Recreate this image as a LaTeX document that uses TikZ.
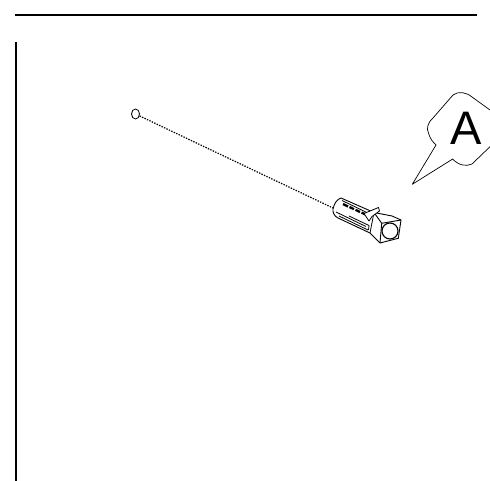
\documentclass[tikz,border=0pt]{standalone}
\usepackage{fontspec}
\usetikzlibrary{shapes.geometric}
\setmainfont{Liberation Sans}
\tikzset{
  frame/.style={line width=2pt,black},
  part/.style={line width=0.9pt,black,line join=round},
  thin part/.style={line width=0.8pt,black,line join=round},
  rib/.style={line width=2.3pt,black},
  hole/.style={ellipse,draw,line width=0.8pt,minimum width=8pt,minimum height=10pt,inner sep=0pt},
  guide/.style={line width=1.2pt,black,dash pattern=on 1.4pt off 1.3pt},
  callout/.style={line width=0.7pt,black,line join=round},
}
\begin{document}
\begin{tikzpicture}[x=1pt,y=-1pt]
\useasboundingbox (0,0) rectangle (490,481);
\fill[white] (0,0) rectangle (490,481);
% frame lines
\coordinate (tl) at (15,15.5);
\coordinate (tr) at (477,15.5);
\coordinate (lt) at (15.5,42);
\coordinate (lb) at (15.5,481);
\draw[frame] (tl) -- (tr);
\draw[frame] (lt) -- (lb);
% hole and guide
\node[hole] (hole) at (135.5,114) {};
\coordinate (nose) at (333,208);
\draw[guide] (hole) -- (nose);
% plug body
\draw[part,fill=white]
  (333,209) .. controls (334,204) and (337,199) .. (341,198)
  -- (374,212.5) -- (392,216) -- (401,220)
  -- (398.3,238.3) -- (380,243) -- (370,233)
  -- (338,218) .. controls (334,216) and (332.5,212) .. (333,209) -- cycle;
% head faces
\draw[part] (374,212.5) -- (381.7,223.3) -- (401,220);
\draw[part] (381.7,223.3) -- (380,243);
\draw[thin part] (374,212.5) -- (370,233);
\node[circle,draw,line width=1.1pt,minimum size=16pt,inner sep=0pt,fill=white] (bore) at (390,231) {};
% ribs
\draw[rib] (343,204) -- (348,206.5);
\draw[rib] (349.5,207) -- (354,209.2);
\draw[rib] (355.5,209.8) -- (360,212);
\draw[rib] (361.5,212.5) -- (365.5,214.5);
\draw[thin part] (342,200.5) -- (371,214.5);
% lengthwise grooves and slot
\draw[thin part] (336,212) -- (366,226.5);
\draw[thin part] (339,216) -- (368,230);
\draw[thin part] (349,216) -- (369,225.5) -- (368.5,230);
% side fin
\draw[thin part,fill=white] (364,213.5) -- (378.5,207.5) -- (379.5,211) -- (372,216.5) -- (369,221) -- cycle;
% callout
\coordinate (tip) at (412.3,184.3);
\draw[callout]
  (490,110) -- (472,97) .. controls (466,92) and (458,91) .. (453,95)
  -- (433,118) .. controls (428,122) and (426,129) .. (428.5,133)
  .. controls (430,139) and (433,142) .. (436,145)
  -- (tip) -- (452.7,159)
  .. controls (458,165) and (466,167) .. (472,164)
  -- (490,146.7);
\node[font=\fontsize{47}{47}\selectfont,inner sep=0pt] (letter) at (466,128) {A};
\end{tikzpicture}
\end{document}
